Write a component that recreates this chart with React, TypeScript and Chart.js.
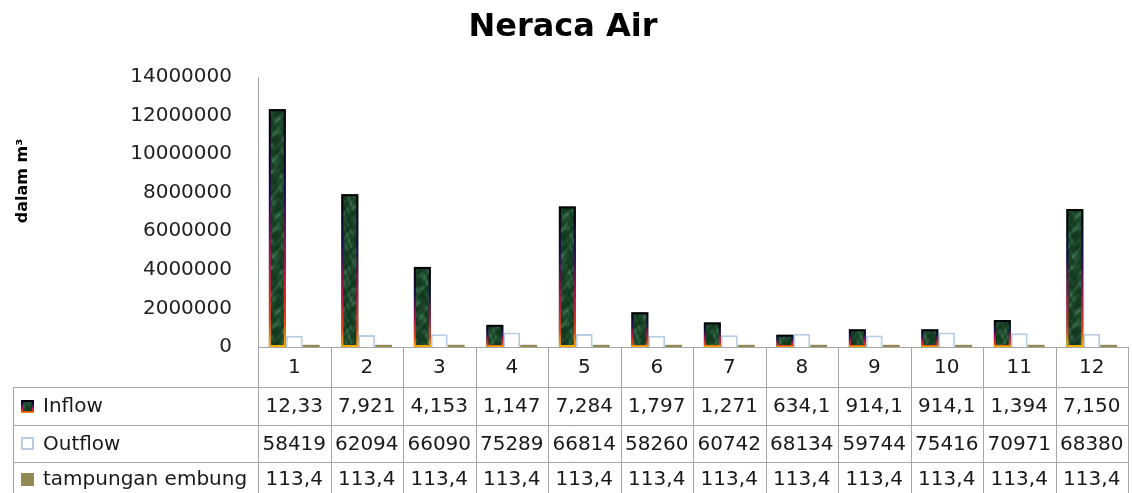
import React, { useEffect, useRef } from "react";
import { Chart, registerables } from "chart.js";

Chart.register(...registerables);

const categories = ["1", "2", "3", "4", "5", "6", "7", "8", "9", "10", "11", "12"];
const inflow = [12330000, 7921000, 4153000, 1147000, 7284000, 1797000, 1271000, 634100, 914100, 914100, 1394000, 7150000];
const outflow = [584190, 620940, 660900, 752890, 668140, 582600, 607420, 681340, 597440, 754160, 709710, 683800];
const tampungan = [113400, 113400, 113400, 113400, 113400, 113400, 113400, 113400, 113400, 113400, 113400, 113400];

const inflowLabels = ["12,33", "7,921", "4,153", "1,147", "7,284", "1,797", "1,271", "634,1", "914,1", "914,1", "1,394", "7,150"];
const outflowLabels = ["58419", "62094", "66090", "75289", "66814", "58260", "60742", "68134", "59744", "75416", "70971", "68380"];
const tampunganLabels = ["113,4", "113,4", "113,4", "113,4", "113,4", "113,4", "113,4", "113,4", "113,4", "113,4", "113,4", "113,4"];

const seriesNames = ["Inflow", "Outflow", "tampungan embung"];
const yTicks = { min: 0, max: 14000000, step: 2000000 };

const FONT = "'DejaVu Sans', sans-serif";
const GRID = "#a6a6a6";

function makeTexture(): CanvasPattern | string {
  const c = document.createElement("canvas");
  const W = 32, H = 96;
  c.width = W; c.height = H;
  const g = c.getContext("2d");
  if (!g) return "#1f5230";
  const img = g.createImageData(W, H);
  const a = [18, 56, 30], b = [70, 130, 90];
  for (let y = 0; y < H; y++) {
    for (let x = 0; x < W; x++) {
      const fx = (x / W) * Math.PI * 2, fy = (y / H) * Math.PI * 2;
      let v =
        0.45 +
        0.22 * Math.sin(fx * 2 + fy * 3 + Math.sin(fy * 5) * 1.3) +
        0.16 * Math.sin(fx * 3 - fy * 7 + Math.cos(fx * 2) * 2) +
        0.1 * Math.cos(fx * 5 + fy * 11);
      v = Math.max(0, Math.min(1, v));
      v = v * v * 0.9;
      const i = (y * W + x) * 4;
      img.data[i] = a[0] + (b[0] - a[0]) * v;
      img.data[i + 1] = a[1] + (b[1] - a[1]) * v;
      img.data[i + 2] = a[2] + (b[2] - a[2]) * v;
      img.data[i + 3] = 255;
    }
  }
  g.putImageData(img, 0, 0);
  const ctx = document.createElement("canvas").getContext("2d");
  const p = ctx ? ctx.createPattern(c, "repeat") : null;
  return p || "#1f5230";
}

function borderGradient(ctx: CanvasRenderingContext2D, top: number, bottom: number) {
  const gr = ctx.createLinearGradient(0, top, 0, bottom);
  gr.addColorStop(0, "#000000");
  gr.addColorStop(0.35, "#1c0c50");
  gr.addColorStop(0.65, "#b0124c");
  gr.addColorStop(0.88, "#e8401a");
  gr.addColorStop(1, "#f8b400");
  return gr;
}

export default function App() {
  const ref = useRef<HTMLCanvasElement>(null);
  useEffect(() => {
    if (!ref.current) return;
    const texture = makeTexture();

    const inflowBorder = {
      id: "inflowBorder",
      afterDatasetsDraw(chart: any) {
        const ctx = chart.ctx as CanvasRenderingContext2D;
        const meta = chart.getDatasetMeta(0);
        ctx.save();
        meta.data.forEach((el: any) => {
          const { x, y, base, width } = el.getProps(["x", "y", "base", "width"], true);
          const left = x - width / 2;
          ctx.strokeStyle = borderGradient(ctx, y, base);
          ctx.lineWidth = 2;
          ctx.strokeRect(left + 1, y + 1, width - 2, base - y - 2);
        });
        ctx.restore();
      },
    };

    const tablePlugin = {
      id: "dataTable",
      afterDraw(chart: any) {
        const ctx = chart.ctx as CanvasRenderingContext2D;
        const area = chart.chartArea;
        const xs = chart.scales.x;
        const n = categories.length;
        const colW = (area.right - area.left) / n;
        const tableLeft = 13;
        const rowTop = [area.bottom, 387, 425, 462];
        const tableBottom = chart.height + 2;
        ctx.save();

        // title
        ctx.fillStyle = "#000";
        ctx.font = `bold 32px ${FONT}`;
        ctx.textAlign = "center";
        ctx.textBaseline = "middle";
        ctx.fillText("Neraca Air", 563, 28);

        // y axis title
        ctx.save();
        ctx.translate(23, 181);
        ctx.rotate(-Math.PI / 2);
        ctx.font = `bold 16px ${FONT}`;
        ctx.fillText("dalam m³", 0, 0);
        ctx.restore();

        // lines
        ctx.strokeStyle = GRID;
        ctx.lineWidth = 1;
        ctx.beginPath();
        ctx.moveTo(area.left, Math.round(area.bottom) + 0.5);
        ctx.lineTo(area.right, Math.round(area.bottom) + 0.5);
        for (let r = 1; r < rowTop.length; r++) {
          ctx.moveTo(tableLeft, rowTop[r] + 0.5);
          ctx.lineTo(area.right, rowTop[r] + 0.5);
        }
        for (let k = 0; k <= n; k++) {
          const xx = Math.round(area.left + k * colW) + 0.5;
          ctx.moveTo(xx, area.bottom);
          ctx.lineTo(xx, tableBottom);
        }
        ctx.moveTo(tableLeft + 0.5, rowTop[1]);
        ctx.lineTo(tableLeft + 0.5, tableBottom);
        ctx.stroke();

        // category labels
        ctx.fillStyle = "#1a1a1a";
        ctx.font = `20px ${FONT}`;
        ctx.textAlign = "center";
        ctx.textBaseline = "middle";
        const yCat = (rowTop[0] + rowTop[1]) / 2 + 1;
        categories.forEach((c, i) => {
          ctx.fillText(c, xs.getPixelForValue(i), yCat);
        });

        const rows = [inflowLabels, outflowLabels, tampunganLabels];
        const rowMid = [(rowTop[1] + rowTop[2]) / 2 + 1, (rowTop[2] + rowTop[3]) / 2 + 1, rowTop[3] + 18];
        rows.forEach((labels, r) => {
          labels.forEach((t, i) => {
            ctx.fillText(t, xs.getPixelForValue(i), rowMid[r]);
          });
        });

        // row headers
        ctx.textAlign = "left";
        seriesNames.forEach((name, r) => {
          const my = rowMid[r];
          const kx = 21, ks = 13, ky = Math.round(my - ks / 2) - 1;
          if (r === 0) {
            ctx.fillStyle = texture as any;
            ctx.fillRect(kx, ky, ks, ks);
            ctx.strokeStyle = borderGradient(ctx, ky, ky + ks);
            ctx.lineWidth = 2;
            ctx.strokeRect(kx + 1, ky + 1, ks - 2, ks - 2);
          } else if (r === 1) {
            ctx.fillStyle = "#ffffff";
            ctx.fillRect(kx, ky, ks, ks);
            ctx.strokeStyle = "#b8cce4";
            ctx.lineWidth = 2;
            ctx.strokeRect(kx + 1, ky + 1, ks - 2, ks - 2);
          } else {
            ctx.fillStyle = "#938953";
            ctx.fillRect(kx, ky, ks, ks);
          }
          ctx.fillStyle = "#1a1a1a";
          ctx.font = `20px ${FONT}`;
          ctx.fillText(name, 43, my);
        });

        ctx.restore();
      },
    };

    const chart = new Chart(ref.current, {
      type: "bar",
      data: {
        labels: categories,
        datasets: [
          { label: seriesNames[0], data: inflow, backgroundColor: texture as any, borderWidth: 0 },
          { label: seriesNames[1], data: outflow, backgroundColor: "#ffffff", borderColor: "#b8cce4", borderWidth: 2 },
          { label: seriesNames[2], data: tampungan, backgroundColor: "#938953", borderWidth: 0 },
        ],
      },
      options: {
        animation: false,
        responsive: true,
        maintainAspectRatio: false,
        layout: { padding: { left: 0, right: 4, top: 77, bottom: 146 } },
        datasets: { bar: { categoryPercentage: 0.7, barPercentage: 1.0 } },
        plugins: {
          legend: { display: false },
          title: { display: false },
          tooltip: { enabled: false },
        },
        scales: {
          x: { display: false },
          y: {
            min: yTicks.min,
            max: yTicks.max,
            afterFit: (s: any) => { s.width = 258; },
            ticks: {
              stepSize: yTicks.step,
              padding: 26,
              color: "#222",
              font: { family: FONT, size: 20 },
              callback: (v: any) => String(v),
            },
            grid: { display: false, drawTicks: false },
            border: { display: true, color: GRID, width: 1 },
          },
        },
      },
      plugins: [inflowBorder, tablePlugin],
    });
    return () => chart.destroy();
  }, []);

  return (
    <div style={{ position: "fixed", left: 0, top: 0, width: 1132, height: 493, background: "#fff" }}>
      <canvas ref={ref} />
    </div>
  );
}
